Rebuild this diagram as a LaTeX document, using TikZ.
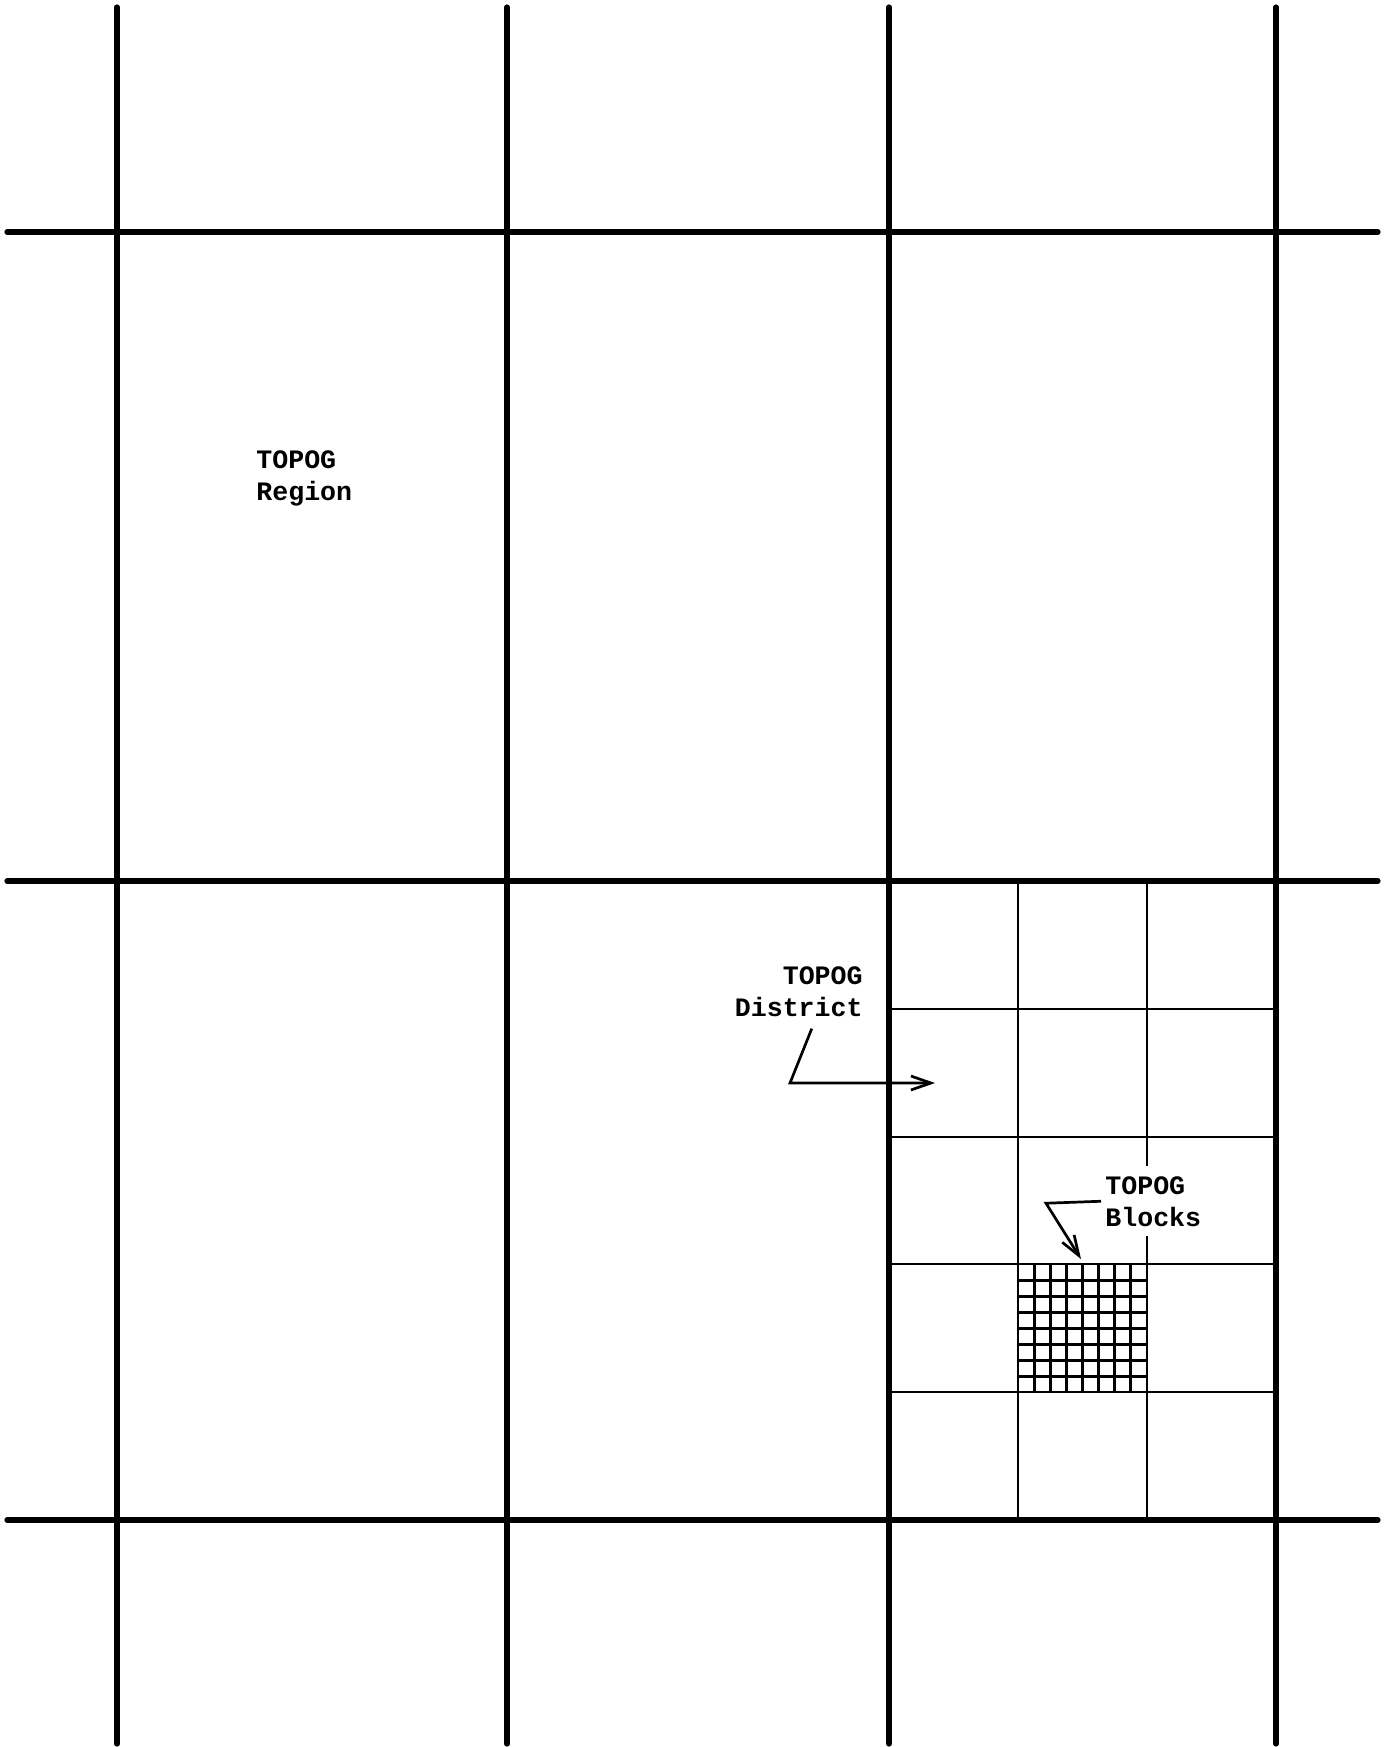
\documentclass[tikz,border=0pt]{standalone}
\usepackage{fontspec}
\setmonofont{Liberation Mono}
\usepackage{tikz}
\usetikzlibrary{arrows.meta,positioning,calc}
\tikzset{
  regionline/.style={line width=2.6pt, line cap=round},
  districtline/.style={line width=1.35pt},
  blockline/.style={line width=1.5pt},
  pointer/.style={line width=1.35pt, -{Straight Barb[length=10pt, width=7pt, line width=1.35pt]}},
  maplabel/.style={font=\ttfamily\bfseries\fontsize{13.3}{16}\selectfont, inner sep=0pt},
}

\begin{document}
\begin{tikzpicture}[x=0.5pt, y=-0.5pt]
  \useasboundingbox (0,0) rectangle (1388,1747);

  \foreach \x in {117,507,889,1276} \draw[regionline] (\x,7) -- (\x,1744);
  \foreach \y in {232,881,1520} \draw[regionline] (7,\y) -- (1378,\y);

  \foreach \x in {1018,1147} \draw[districtline] (\x,881) -- (\x,1520);
  \foreach \y in {1009,1137,1264,1392} \draw[districtline] (889,\y) -- (1276,\y);

  \foreach \i in {1,...,7} {
    \draw[blockline] ({1018+\i*16.1},1264) -- ({1018+\i*16.1},1392);
    \draw[blockline] (1018,{1264+\i*16}) -- (1147,{1264+\i*16});
  }

  \node[maplabel, align=left, anchor=base west] (region) at (256,500) {TOPOG\\Region};
  \node[maplabel, align=right, anchor=base east] (district) at (863,1016) {TOPOG\\District};
  \node[maplabel, align=left, fill=white, inner xsep=2pt, inner ysep=5pt, anchor=base west] (blocks) at (1101,1226) {TOPOG\\Blocks};

  \coordinate (districtend) at (935,1083);
  \coordinate (blocksend) at (1081,1259);

  \draw[pointer] ([shift={(13,12)}]district.south) -- ([xshift=-72.5pt]districtend) -- (districtend);
  \draw[pointer] (blocks.west) -- ++(-55,2) -- (blocksend);
\end{tikzpicture}
\end{document}
